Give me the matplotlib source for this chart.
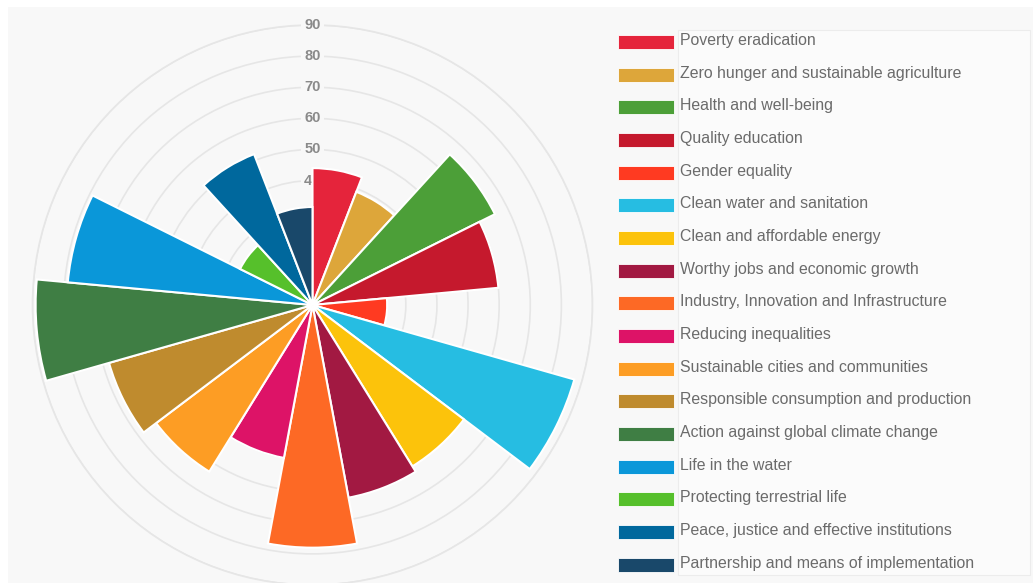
import numpy as np
import matplotlib.pyplot as plt
from matplotlib.patches import Rectangle

# 17 SDG goals
labels = [
    "Poverty eradication",
    "Zero hunger and sustainable agriculture",
    "Health and well-being",
    "Quality education",
    "Gender equality",
    "Clean water and sanitation",
    "Clean and affordable energy",
    "Worthy jobs and economic growth",
    "Industry, Innovation and Infrastructure",
    "Reducing inequalities",
    "Sustainable cities and communities",
    "Responsible consumption and production",
    "Action against global climate change",
    "Life in the water",
    "Protecting terrestrial life",
    "Peace, justice and effective institutions",
    "Partnership and means of implementation",
]
values = [44, 39, 65.5, 60, 24, 87.5, 61, 63, 78, 50, 63, 68, 89, 79, 26, 52, 31.5]
colors = ["#E5243B", "#DDA63A", "#4C9F38", "#C5192D", "#FF3A21", "#26BDE2",
          "#FCC30B", "#A21942", "#FD6925", "#DD1367", "#FD9D24", "#BF8B2E",
          "#3F7E44", "#0A97D9", "#56C02B", "#00689D", "#19486A"]
rticks = [10, 20, 30, 40, 50, 60, 70, 80, 90]

W, H = 1033, 583
panel_col = "#f8f8f8"

fig = plt.figure(figsize=(W / 100, H / 100), dpi=100)
fig.patch.set_facecolor("white")
# grey panel behind everything
fig.patches.append(Rectangle((8 / W, 0), 1 - 8 / W, (H - 7) / H, transform=fig.transFigure,
                             facecolor=panel_col, edgecolor="none", zorder=-10))

# polar axes: center (312.5, 305) px, radius of 90 ring = 280 px
cx, cy, R = 312.5, 305, 280
ax = fig.add_axes([(cx - R) / W, (H - cy - R) / H, 2 * R / W, 2 * R / H], projection="polar")
ax.patch.set_alpha(0)
ax.set_theta_zero_location("N")
ax.set_theta_direction(-1)
ax.set_ylim(0, 90)
ax.set_xticks([])
ax.set_yticks(rticks)
ax.set_yticklabels([])
ax.set_axisbelow(True)
ax.grid(axis="y", color="#e6e6e6", linewidth=1.2)
ax.grid(axis="x", visible=False)
ax.spines["polar"].set_color("#e6e6e6")
ax.spines["polar"].set_linewidth(1.2)
ax.spines["polar"].set_zorder(0.6)

n = len(values)
w = 2 * np.pi / n
theta = np.arange(n) * w
ax.bar(theta, values, width=w, align="edge", color=colors, edgecolor="white",
       linewidth=1.5, zorder=4)

# radial tick labels along the top, hidden by bars where they overlap
for r in rticks:
    ax.text(0, r, str(r), ha="center", va="center", fontsize=10.5, fontweight="bold",
            color="#8a8a8a", family=["Liberation Sans", "DejaVu Sans"], zorder=3,
            bbox=dict(boxstyle="square,pad=0.2", fc=panel_col, ec="none"))

# legend drawn as an html-like table on the right
fig.patches.append(Rectangle((678 / W, 1 - 575 / H), (1030 - 678) / W, (575 - 30) / H,
                             transform=fig.transFigure, facecolor="#fbfbfb",
                             edgecolor="#ececec", linewidth=0.8, zorder=-5))
for i, (lab, col) in enumerate(zip(labels, colors)):
    yc = 42 + i * 32.66
    fig.patches.append(Rectangle((618 / W, 1 - (yc + 7) / H), 56 / W, 14 / H,
                                 transform=fig.transFigure, facecolor=col,
                                 edgecolor="white", linewidth=0.6))
    fig.text(680 / W, 1 - (yc - 1.5) / H, lab, ha="left", va="center", fontsize=11.4,
             color="#6b6b6b", family=["Liberation Sans", "DejaVu Sans"])

fig.savefig("out.png", dpi=100, facecolor=fig.get_facecolor())
